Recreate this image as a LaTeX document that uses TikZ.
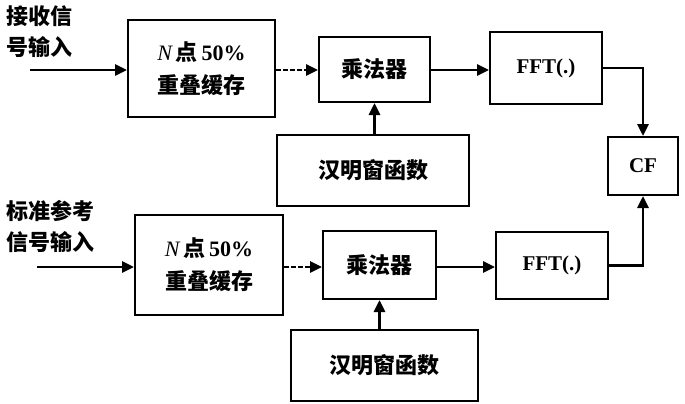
\documentclass[tikz,border=0pt]{standalone}
\usepackage{fontspec}
\setmainfont{Liberation Serif}
\newfontfamily\cjk{Noto Sans CJK SC}
\usetikzlibrary{arrows.meta,calc}
\newcommand{\bufftext}{{\rmfamily\mdseries\itshape N}\,点\,{\rmfamily\bfseries 50\%}\\[5pt]重叠缓存}
\begin{document}
\begin{tikzpicture}[x=1pt,y=-1pt,
  blk/.style={draw,line width=2pt,inner sep=0pt,align=center,font=\fontsize{22}{28}\selectfont\cjk\bfseries},
  lat/.style={font=\fontsize{21}{24}\selectfont\rmfamily\bfseries},
  conn/.style={line width=2.8pt,line join=miter,-{Triangle[length=12pt,width=11pt]}},
  dconn/.style={conn,dash pattern=on 5pt off 2pt},
  lbl/.style={anchor=north west,align=left,inner sep=0pt,font=\fontsize{22}{31}\selectfont\cjk\bfseries}]
\useasboundingbox (0,0) rectangle (685,404);
% top row
\node[lbl] (inA) at (6,5) {接收信\\号输入};
\node[blk,minimum width=147pt,minimum height=97pt] (buf1) at (201.5,68.5) {\bufftext};
\node[blk,minimum width=111pt,minimum height=65pt] (mul1) at (374.5,69.5) {乘法器};
\node[blk,lat,minimum width=112pt,minimum height=72pt] (fft1) at (546,68) {FFT(.)};
\node[blk,lat,minimum width=70pt,minimum height=58pt] (cf) at (643,166) {CF};
\node[blk,minimum width=192pt,minimum height=71pt] (ham1) at (373,170.5) {汉明窗函数};
% bottom row
\node[lbl] (inB) at (6,200) {标准参考\\信号输入};
\node[blk,minimum width=148pt,minimum height=100pt] (buf2) at (209,265) {\bufftext};
\node[blk,minimum width=113pt,minimum height=68pt] (mul2) at (379.5,265) {乘法器};
\node[blk,lat,minimum width=112pt,minimum height=67pt] (fft2) at (552,265.5) {FFT(.)};
\node[blk,minimum width=187pt,minimum height=71pt] (ham2) at (384.5,365.5) {汉明窗函数};
% connectors
\coordinate (s1) at (30,70);
\coordinate (s2) at (37,267);
\draw[conn] (s1) -- (s1 -| buf1.west);
\draw[dconn] (buf1.east |- s1) -- (s1 -| mul1.west);
\draw[conn] (s1 -| mul1.east) -- (s1 -| fft1.west);
\draw[conn] (fft1.east) -| (cf.north);
\draw[conn] (mul1.south |- ham1.north) -- (mul1.south);
\draw[conn] (s2) -- (s2 -| buf2.west);
\draw[dconn] (buf2.east |- s2) -- (s2 -| mul2.west);
\draw[conn] (s2 -| mul2.east) -- (s2 -| fft2.west);
\draw[conn] (fft2.east) -| (cf.south);
\draw[conn] (mul2.south |- ham2.north) -- (mul2.south);
\end{tikzpicture}
\end{document}
